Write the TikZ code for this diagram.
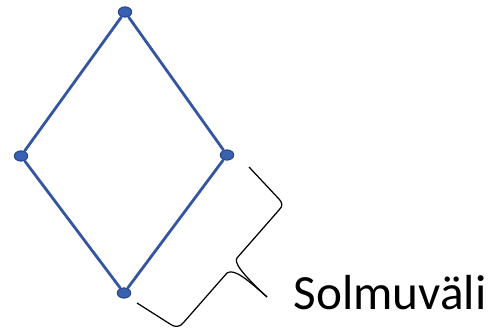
\documentclass[tikz,border=0pt]{standalone}
\usepackage{fontspec}
\setmainfont{Carlito}
\usetikzlibrary{shapes.geometric}
\definecolor{edgeblue}{RGB}{52,86,160}
\definecolor{nodefill}{RGB}{58,96,176}
\definecolor{nodeline}{RGB}{40,70,140}
\tikzset{
  vert/.style={ellipse, fill=nodefill, draw=nodeline, line width=0.3pt, minimum width=3.8pt, minimum height=2.9pt, inner sep=0pt},
  edge/.style={draw=edgeblue, line width=0.8pt},
  bracepath/.style={draw=black, line width=0.35pt, line join=round},
  lbl/.style={font=\fontsize{14pt}{16pt}\selectfont, anchor=center, inner sep=0pt}
}
\begin{document}
\begin{tikzpicture}[x=0.01cm, y=-0.01cm]
\useasboundingbox (0,0) rectangle (488,331);
\node[vert] (t) at (125,12) {};
\node[vert] (l) at (21,156) {};
\node[vert] (r) at (227,155) {};
\node[vert] (b) at (124,293) {};
\draw[edge] (t) -- (l);
\draw[edge] (t) -- (r);
\draw[edge] (l) -- (b);
\draw[edge] (r) -- (b);
\coordinate (bt) at (249,167);
\coordinate (tip) at (267,297);
\coordinate (bb) at (137,303);
\draw[bracepath] (bt) -- (278,198) .. controls (283,203) and (283,206) .. (279,210) -- (237,258)
  .. controls (234,262) and (240,272) .. (tip);
\draw[bracepath] (tip) .. controls (248,280) and (234,268) .. (227,273) -- (184,322)
  .. controls (180,327) and (176,328) .. (170,324) -- (bb);
\node[lbl] (s) at (390,293) {Solmuväli};
\end{tikzpicture}
\end{document}
